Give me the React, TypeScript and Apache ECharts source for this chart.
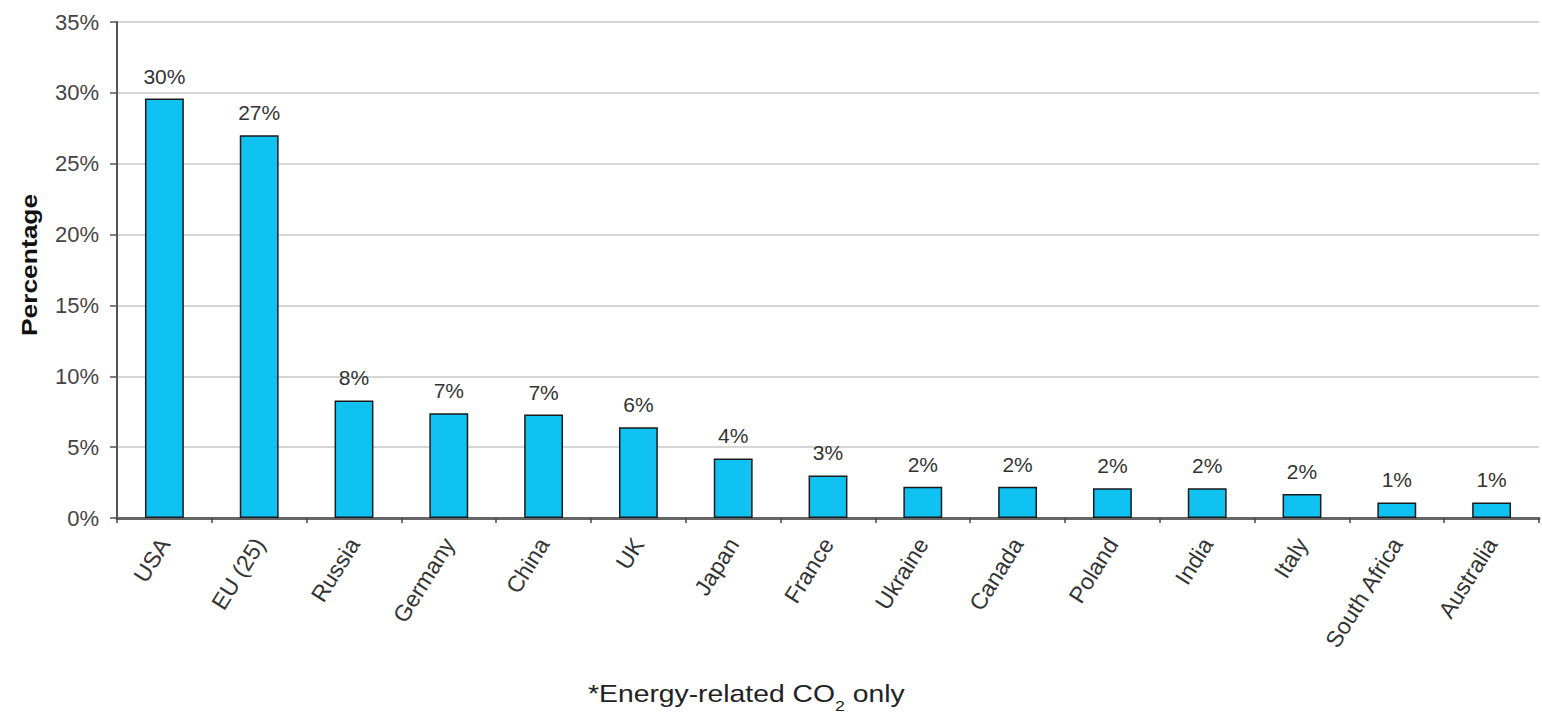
import React, { useEffect, useRef } from "react";
import * as echarts from "echarts";

const categories = [
  "USA", "EU (25)", "Russia", "Germany", "China", "UK", "Japan", "France",
  "Ukraine", "Canada", "Poland", "India", "Italy", "South Africa", "Australia",
];
const values = [29.6, 27.0, 8.3, 7.4, 7.3, 6.4, 4.2, 3.0, 2.2, 2.2, 2.1, 2.1, 1.7, 1.1, 1.1];
const yTicks = [0, 5, 10, 15, 20, 25, 30, 35];

export default function App() {
  const ref = useRef<HTMLDivElement>(null);
  useEffect(() => {
    document.body.style.margin = "0";
    const chart = echarts.init(ref.current!, null, { renderer: "svg" });
    const font = "Arial, 'Liberation Sans', sans-serif";
    chart.setOption({
      animation: false,
      backgroundColor: "#ffffff",
      graphic: [
        {
          type: "text",
          x: 29,
          y: 265,
          rotation: Math.PI / 2,
          scaleX: 1.2,
          style: {
            text: "Percentage",
            fontFamily: font,
            fontSize: 22,
            fontWeight: "bold",
            fill: "#111",
            align: "center",
            verticalAlign: "middle",
          },
        },
        {
          type: "text",
          x: 588,
          y: 678,
          scaleX: 1.18,
          style: {
            text: "{a|*Energy-related CO}{s|2}{a| only}",
            rich: {
              a: { fontFamily: font, fontSize: 24, fill: "#222", verticalAlign: "bottom", lineHeight: 28 },
              s: { fontFamily: font, fontSize: 15, fill: "#222", verticalAlign: "bottom", lineHeight: 28, padding: [0, 0, -7, 0] },
            },
          },
        },
      ],
      grid: { left: 117, right: 3, top: 22, bottom: 198, containLabel: false },
      xAxis: {
        type: "category",
        data: categories,
        axisLine: { lineStyle: { color: "#666", width: 3 } },
        axisTick: { show: true, alignWithLabel: false, length: 5, lineStyle: { color: "#444", width: 1.5 } },
        axisLabel: {
          rotate: 58,
          interval: 0,
          fontFamily: font,
          fontSize: 23,
          color: "#333",
          margin: 22,
        },
      },
      yAxis: {
        type: "value",
        min: 0,
        max: 35,
        interval: 5,
        axisLine: { show: true, lineStyle: { color: "#555", width: 2 } },
        axisTick: { show: true, length: 7, lineStyle: { color: "#555", width: 1.5 } },
        axisLabel: {
          fontFamily: font,
          fontSize: 22,
          color: "#444",
          margin: 18,
          formatter: (v: number) => (yTicks.includes(v) ? v + "%" : ""),
        },
        splitLine: { show: true, lineStyle: { color: "#c8c8c8", width: 1.5 } },
      },
      series: [
        {
          type: "bar",
          data: values,
          barWidth: "41%",
          itemStyle: { color: "#0fc2f2", borderColor: "#1a1a1a", borderWidth: 1.5 },
          label: {
            show: true,
            position: "top",
            distance: 12,
            fontFamily: font,
            fontSize: 21,
            color: "#333",
            formatter: (p: any) => Math.round(p.value) + "%",
          },
        },
      ],
    });
    return () => chart.dispose();
  }, []);
  return (
    <div
      ref={ref}
      style={{ position: "fixed", left: 0, top: 0, width: 1542, height: 716 }}
    />
  );
}
